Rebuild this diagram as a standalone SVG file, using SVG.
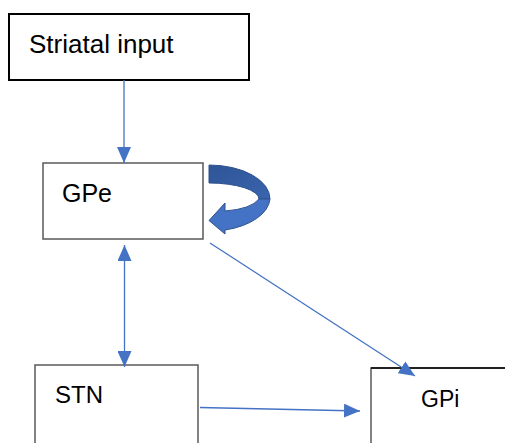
<svg xmlns="http://www.w3.org/2000/svg" width="505" height="443" viewBox="0 0 505 443">
  <style>
    .box { fill: #ffffff; stroke: #595959; stroke-width: 1.5; }
    .box-dark { fill: #ffffff; stroke: #000000; stroke-width: 2; }
    .label { font-family: "Liberation Sans", Arial, sans-serif; fill: #000000; }
    .link { fill: none; stroke: #4472C4; stroke-width: 1.3; }
  </style>
  <defs>
    <marker id="head" viewBox="0 0 16 14" refX="16" refY="7" markerWidth="16" markerHeight="14" markerUnits="userSpaceOnUse" orient="auto-start-reverse">
      <path d="M0,0 L16,7 L0,14 Z" fill="#4472C4"/>
    </marker>
    <linearGradient id="loopBack" x1="0" y1="0" x2="1" y2="1">
      <stop offset="0" stop-color="#2F5597"/>
      <stop offset="1" stop-color="#3A64AE"/>
    </linearGradient>
  </defs>

  <g id="striatal-input">
    <rect class="box-dark" x="9" y="14" width="240" height="66"/>
    <text class="label" x="29" y="53" font-size="26">Striatal input</text>
  </g>

  <g id="gpe">
    <rect class="box" x="43" y="163" width="160" height="76"/>
    <text class="label" x="62" y="202" font-size="25">GPe</text>
  </g>

  <g id="stn">
    <rect class="box" x="35" y="365" width="163" height="90"/>
    <text class="label" x="55" y="403" font-size="24">STN</text>
  </g>

  <g id="gpi">
    <rect class="box" x="371" y="368" width="150" height="90"/>
    <line x1="371" y1="368" x2="505" y2="368" stroke="#000000" stroke-width="1.5"/>
    <text class="label" x="421" y="407" font-size="23">GPi</text>
  </g>

  <g id="connectors">
    <line class="link" x1="124" y1="80" x2="124" y2="163" marker-end="url(#head)"/>
    <line class="link" x1="124.5" y1="245" x2="124.5" y2="367" marker-start="url(#head)" marker-end="url(#head)"/>
    <line class="link" x1="210" y1="243" x2="415" y2="376" marker-end="url(#head)"/>
    <line class="link" x1="200" y1="407.5" x2="360" y2="411" marker-end="url(#head)"/>

    <!-- self-loop on GPe: curved block arrow -->
    <g id="gpe-loop" stroke="#2F528F" stroke-width="1" stroke-linejoin="round">
      <path d="M209,165 A61,34 0 0 1 270,199 L259,199 A50,16 0 0 0 209,183 Z" fill="url(#loopBack)"/>
      <path d="M270,199 A61,34 0 0 1 225,230 L225,234 L209,220.5 L225,203 L225,211 Q251,209 259,199 Z" fill="#4472C4"/>
    </g>
  </g>
</svg>
